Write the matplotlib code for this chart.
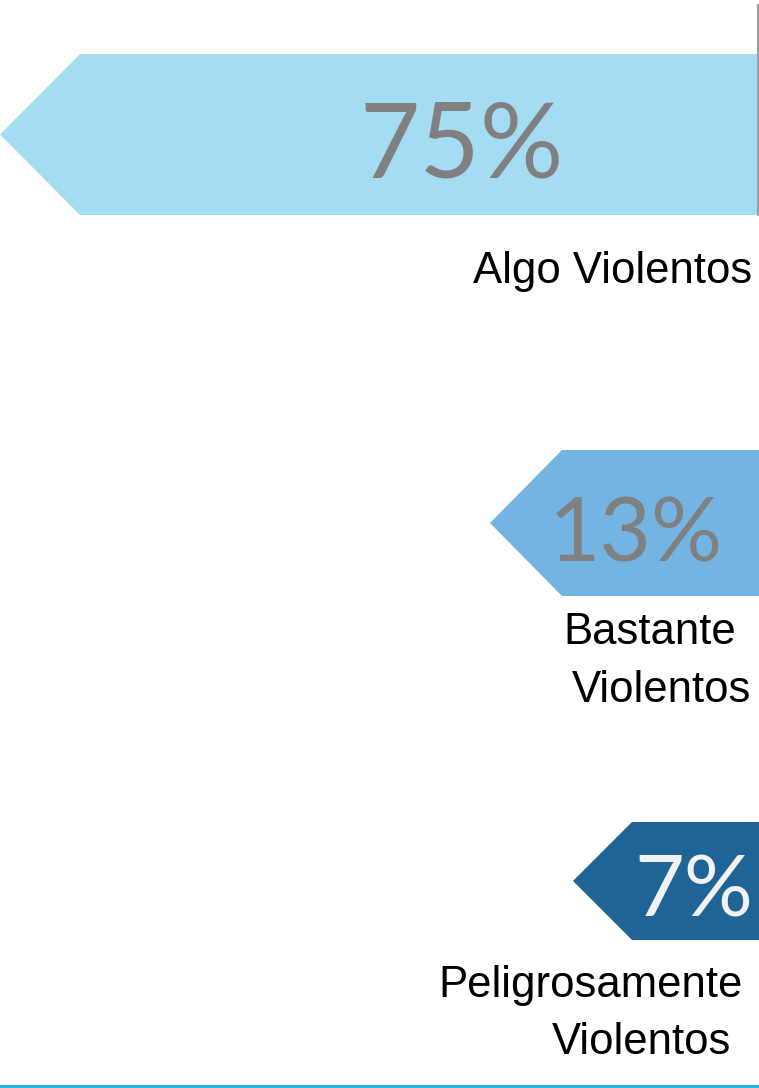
import matplotlib
matplotlib.use("Agg")
import matplotlib.pyplot as plt
from matplotlib.patches import Polygon

# ---- data ----
categories = ["Algo Violentos", "Bastante\nViolentos", "Peligrosamente\nViolentos"]
values = [75, 13, 7]

# ---- style / layout ----
bar_colors = ["#a4ddf3", "#74b4e2", "#1f6496"]
value_colors = ["#808080", "#808080", "#f2f2f2"]
# arrow geometry in pixel coords: (left tip x, shoulder x, top y, bottom y)
shapes = [(0, 80, 54, 215), (490, 562, 450, 596), (573, 632, 822, 940)]
value_pos = [(462, 139), (636, 528), (694, 885)]
value_size = [75, 64, 62]
label_lines = [
    [(752, 272, "right")],
    [(650, 633, "center"), (661, 690, "center")],
    [(591, 986, "center"), (642, 1043, "center")],
]

W, H = 759, 1088
fig = plt.figure(figsize=(W / 100, H / 100), dpi=100)
ax = fig.add_axes([0, 0, 1, 1])
ax.set_xlim(0, W)
ax.set_ylim(H, 0)
ax.axis("off")

label_font = "Liberation Sans"
value_font = "Lato"

for i, (cat, val) in enumerate(zip(categories, values)):
    tip, sh, top, bot = shapes[i]
    mid = (top + bot) / 2
    poly = Polygon([(tip, mid), (sh, top), (W, top), (W, bot), (sh, bot)],
                   closed=True, facecolor=bar_colors[i], edgecolor="none")
    ax.add_patch(poly)
    vx, vy = value_pos[i]
    ax.text(vx, vy, f"{val}%", ha="center", va="center_baseline", fontsize=value_size[i],
            color=value_colors[i], family=value_font, fontweight="normal")
    for (lx, ly, ha), line in zip(label_lines[i], cat.split("\n")):
        ax.text(lx, ly, line, ha=ha, va="center", fontsize=31.5, color="black",
                family=label_font)

# right edge axis line and bottom rule
ax.plot([758, 758], [5, 215], color="#a0a0a0", lw=1.5)
ax.plot([0, W], [1086, 1086], color="#1aaee0", lw=2)

fig.savefig("out.png", dpi=100)
